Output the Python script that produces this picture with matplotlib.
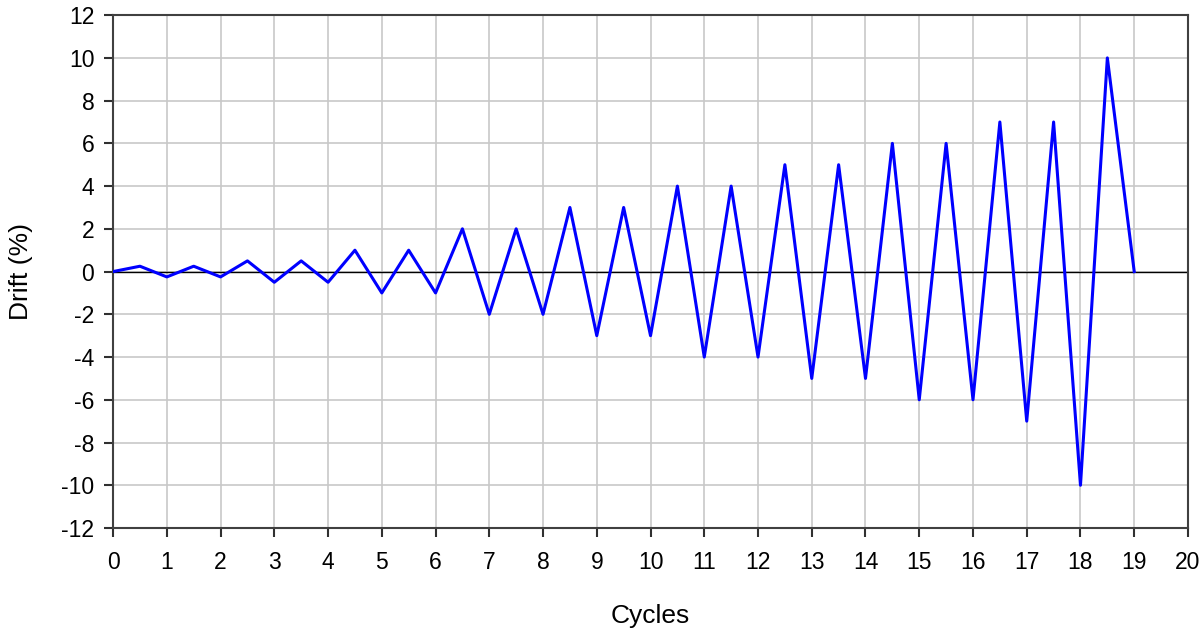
import matplotlib.pyplot as plt
import numpy as np

plt.rcParams['font.family'] = ['Liberation Sans', 'DejaVu Sans']
plt.rcParams['axes.unicode_minus'] = False

# loading protocol: cycle position vs drift (%)
cycles = [0, 0.5, 1, 1.5, 2, 2.5, 3, 3.5, 4, 4.5, 5, 5.5, 6, 6.5, 7, 7.5, 8,
          8.5, 9, 9.5, 10, 10.5, 11, 11.5, 12, 12.5, 13, 13.5, 14, 14.5, 15,
          15.5, 16, 16.5, 17, 17.5, 18, 18.5, 19]
drift = [0, 0.25, -0.25, 0.25, -0.25, 0.5, -0.5, 0.5, -0.5, 1, -1, 1, -1,
         2, -2, 2, -2, 3, -3, 3, -3, 4, -4, 4, -4, 5, -5, 5, -5, 6, -6,
         6, -6, 7, -7, 7, -10, 10, 0]

fig = plt.figure(figsize=(12.03, 6.32), dpi=100)
ax = fig.add_axes([0.094, 0.1646, 0.8935, 0.8114])

ax.plot(cycles, drift, color='#0000ff', lw=2.2, zorder=3)
ax.axhline(0, color='black', lw=1, zorder=2)

ax.set_xlim(0, 20)
ax.set_ylim(-12, 12)
ax.set_xticks(np.arange(0, 21, 1))
ax.set_yticks(np.arange(-12, 13, 2))
ax.grid(True, color='#c8c8c8', lw=1.2)
ax.set_axisbelow(True)

for s in ax.spines.values():
    s.set_color('#404040')
    s.set_linewidth(1.5)
ax.tick_params(direction='out', length=6.5, width=1.5, color='#303030',
               labelsize=16.5)
ax.tick_params(axis='x', pad=10)
ax.tick_params(axis='y', pad=7)

ax.set_xlabel('Cycles', fontsize=19, labelpad=22)
ax.set_ylabel('Drift (%)', fontsize=19, labelpad=20)

fig.savefig('out.png', dpi=100)
